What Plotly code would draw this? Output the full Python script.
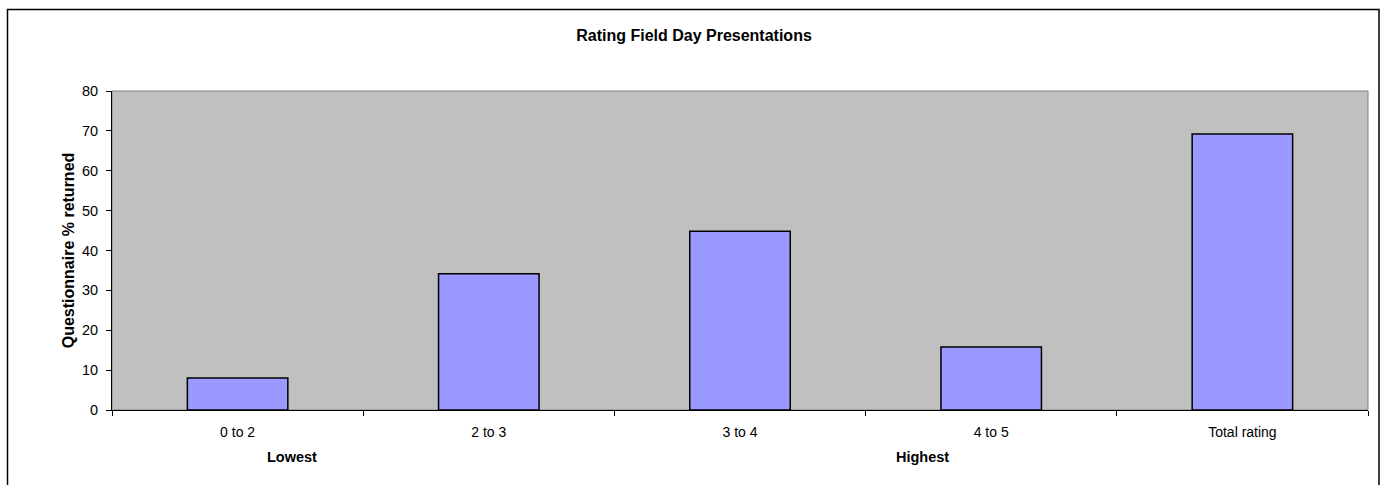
import plotly.graph_objects as go

categories = ["0 to 2", "2 to 3", "3 to 4", "4 to 5", "Total rating"]
values = [8.0, 34.2, 44.8, 15.8, 69.2]
y_ticks = [0, 10, 20, 30, 40, 50, 60, 70, 80]

W, H = 1381, 485
L, R, T, B = 112, 13, 91, 75
pw, ph = W - L - R, H - T - B

def px_x(p):
    return (p - L) / pw

def px_y(p):
    return (H - B - p) / ph

font = "Liberation Sans, Arial, sans-serif"

fig = go.Figure()
fig.add_trace(go.Bar(
    x=categories, y=values,
    marker=dict(color="#9999FF", line=dict(color="#000000", width=1.5)),
    width=0.4,
))

fig.update_layout(
    width=W, height=H,
    margin=dict(l=L, r=R, t=T, b=B),
    paper_bgcolor="white",
    plot_bgcolor="#C0C0C0",
    showlegend=False,
    font=dict(family=font, color="#000000", size=14),
    title=dict(text="<b>Rating Field Day Presentations</b>", x=px_x(694), xref="paper",
               xanchor="center", y=1 - 35 / H, yanchor="middle",
               font=dict(size=16, family=font)),
    xaxis=dict(
        type="category", tickson="boundaries", ticks="outside", ticklen=5,
        tickcolor="#000000", showline=True, linecolor="#000000", linewidth=1,
        showgrid=False, tickfont=dict(size=14), range=[-0.5, 4.5],
        ticklabelstandoff=9,
    ),
    yaxis=dict(
        range=[0, 80], tickvals=y_ticks, ticks="outside", ticklen=5,
        tickcolor="#000000", showline=True, linecolor="#000000", linewidth=1,
        showgrid=False, zeroline=False, tickfont=dict(size=14.5),
        ticklabelstandoff=5,
        title=dict(text="<b>Questionnaire % returned</b>", font=dict(size=16), standoff=3),
    ),
    shapes=[
        dict(type="rect", xref="paper", yref="paper", x0=0, x1=1, y0=0, y1=1,
             line=dict(color="#808080", width=1), layer="below"),
        dict(type="rect", xref="paper", yref="paper",
             x0=px_x(7.5), x1=px_x(1379), y0=px_y(9.5), y1=px_y(495),
             line=dict(color="#000000", width=1.5)),
    ],
    annotations=[
        dict(text="<b>Lowest</b>", xref="paper", yref="paper", x=px_x(292), y=px_y(457),
             showarrow=False, xanchor="center", yanchor="middle", font=dict(size=14.5)),
        dict(text="<b>Highest</b>", xref="paper", yref="paper", x=px_x(922), y=px_y(457),
             showarrow=False, xanchor="center", yanchor="middle", font=dict(size=14.5)),
    ],
)

fig.write_html("out.html", config={"displayModeBar": False},
               post_script="document.body.style.margin='0';document.body.style.overflow='hidden';")
